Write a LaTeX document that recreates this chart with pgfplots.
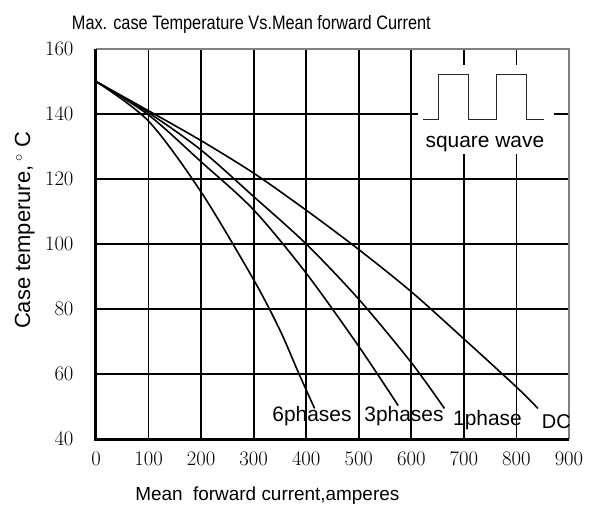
\documentclass[border=0pt]{standalone}
\usepackage{pgfplots}
\pgfplotsset{compat=1.18}
\usepackage{fontspec}
\setmainfont{Liberation Sans}
\newfontfamily\narrowfont{Liberation Sans}[FakeStretch=0.84]
\begin{document}
\begin{tikzpicture}
\begin{axis}[
    width=473bp, height=390bp, scale only axis,
    xmin=0, xmax=900, ymin=40, ymax=160,
    xtick={0,100,...,900},
    ytick={40,60,...,160},
    grid=major,
    major grid style={black, line width=1.8bp},
    axis line style={draw=none},
    tick style={draw=none},
    tick label style={font=\fontsize{20}{20}\selectfont},
    yticklabel style={xshift=-19bp},
    xticklabel style={yshift=-10bp},
    clip=false,
]
% axis frame: heavy left/bottom, light top/right
\draw[gray, line width=1.5bp] (axis cs:0,160) -- (axis cs:900,160) -- (axis cs:900,40);
\draw[black, line width=3bp] (axis cs:0,160) -- (axis cs:0,40) -- (axis cs:900,40);

% DC
\addplot[black, line width=1.6bp, smooth] coordinates {
    (0,150)(100,141)(200,131.8)(300,121.8)(400,110.4)(500,98.3)(600,85.3)(700,70.8)(800,56)(841,49.4)};
% 1phase
\addplot[black, line width=1.6bp, smooth] coordinates {
    (0,150)(100,140.4)(200,128.9)(300,114.6)(400,100)(500,83)(600,63.5)(663,49.4)};
% 3phases
\addplot[black, line width=1.6bp, smooth] coordinates {
    (0,150)(100,139.7)(200,125.3)(300,110.5)(400,91)(500,68.5)(575,50.3)};
% 6phases
\addplot[black, line width=1.6bp, smooth] coordinates {
    (0,150)(100,137.8)(200,116)(300,89)(350,73.5)(385,60.5)(416,49.4)};

\node[anchor=base, font=\fontsize{21}{21}\selectfont] at (axis cs:411,45.3) {6phases};
\node[anchor=base, font=\fontsize{21}{21}\selectfont] at (axis cs:586,45.3) {3phases};
\node[anchor=base, font=\fontsize{21}{21}\selectfont] at (axis cs:745,44.3) {1phase};
\node[anchor=base, font=\fontsize{20}{20}\selectfont] at (axis cs:876,43.3) {DC};

% square wave inset
\fill[white] (axis cs:612,127.7) rectangle (axis cs:872,155);
\draw[black!85, line width=1bp] (axis cs:622,138.4) -- (axis cs:651,138.4) -- (axis cs:651,152.2)
    -- (axis cs:708,152.2) -- (axis cs:708,138.4) -- (axis cs:763,138.4) -- (axis cs:763,152.2)
    -- (axis cs:820,152.2) -- (axis cs:820,138.4) -- (axis cs:852,138.4);
\node[anchor=base, font=\fontsize{21}{21}\selectfont] at (axis cs:740,129.6) {square wave};

% titles
\node[anchor=base, font=\narrowfont\fontsize{19.5}{19.5}\selectfont] at (axis cs:295.6,166.1)
    {Max. case Temperature Vs.Mean forward Current};
\node[anchor=base, font=\fontsize{19}{19}\selectfont] at (axis cs:326,21.2)
    {Mean\ \ forward current,amperes};
\node[anchor=base, rotate=90, font=\fontsize{22}{22}\selectfont] at (axis cs:-125.5,104.3)
    {Case temperure,\,$^{\circ}$\,\,C};
\end{axis}
\pgfresetboundingbox
\path[use as bounding box] (-96bp,-71bp) rectangle (496bp,439bp);
\end{tikzpicture}
\end{document}
